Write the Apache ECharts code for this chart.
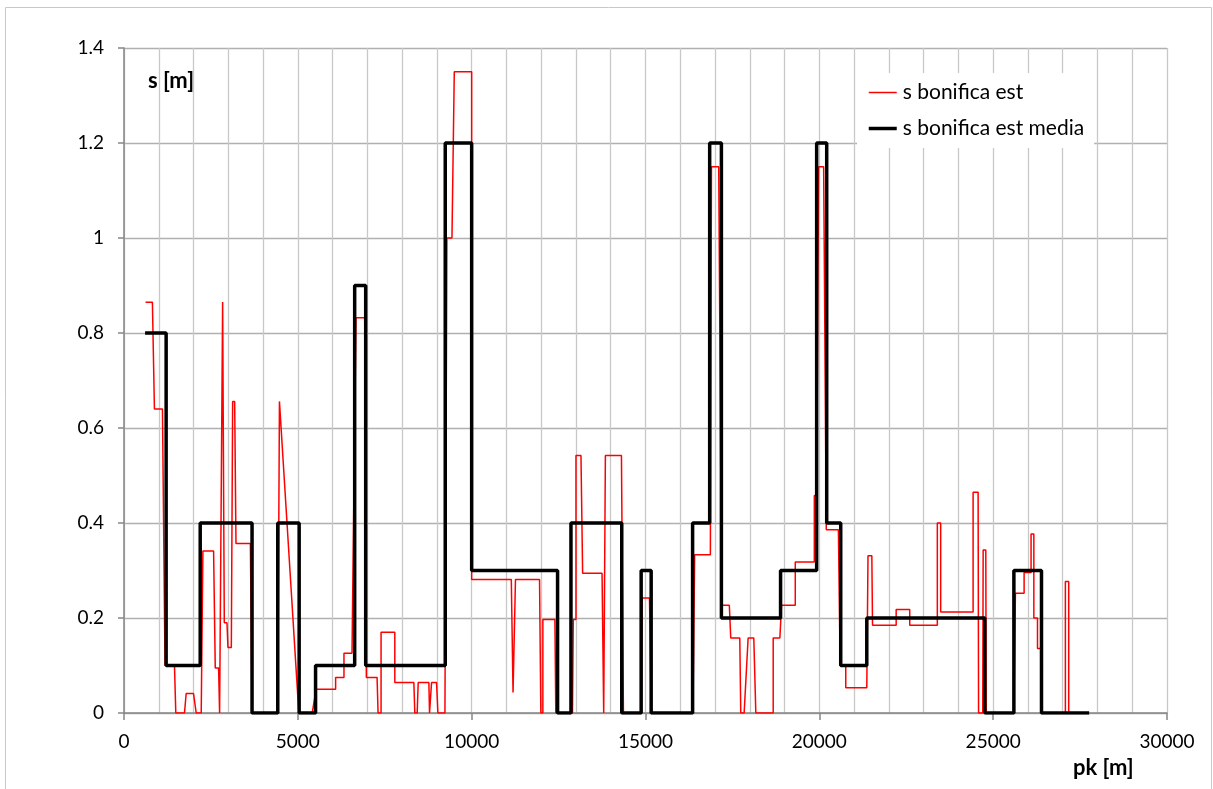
<!DOCTYPE html>
<html>
<head>
<meta charset="utf-8">
<script src="https://cdn.jsdelivr.net/npm/echarts@6/dist/echarts.min.js"></script>
<style>
html,body{margin:0;padding:0;background:#fff;}
#chart{width:1213px;height:789px;}
</style>
</head>
<body>
<div id="chart"></div>
<script>
// s bonifica est (red)
const redPk = [620,817,875,1106,1180,1452,1490,1740,1788,2000,2077,2221,2269,2577,2625,2721,2750,2837,2885,2962,2990,3087,3125,3183,3221,3635,3683,4423,4471,5029,5413,5529,6087,6087,6327,6327,6558,6673,6923,6971,7279,7308,7394,7394,7789,7789,8337,8365,8433,8462,8769,8788,8827,8846,8990,9029,9231,9288,9433,9500,10000,10000,11140,11190,11245,11260,11952,11990,12048,12048,12394,12420,12900,12923,13000,13000,13144,13192,13750,13798,13846,14308,14365,14875,14904,15115,15163,16365,16414,16866,16897,17106,17190,17411,17452,17712,17740,17837,17952,18115,18173,18673,18673,18865,18913,19308,19308,19856,19856,19923,19980,20124,20200,20548,20600,20760,20760,21365,21400,21510,21530,22210,22210,22600,22600,23394,23394,23490,23490,24423,24423,24567,24580,24700,24712,24788,24800,25596,25640,25890,25890,26090,26090,26170,26170,26275,26275,26380,26380,27077,27077,27173,27173,27760];
const redS  = [0.865,0.865,0.64,0.64,0.1,0.1,0,0,0.041,0.041,0,0,0.341,0.341,0.095,0.095,0,0.865,0.19,0.19,0.138,0.138,0.656,0.656,0.357,0.357,0,0,0.656,0,0,0.05,0.05,0.075,0.075,0.126,0.126,0.832,0.832,0.075,0.075,0,0,0.17,0.17,0.064,0.064,0,0,0.064,0.064,0,0,0.064,0.064,0,0,1.0,1.0,1.35,1.35,0.281,0.281,0.043,0.043,0.281,0.281,0,0,0.197,0.197,0,0,0.197,0.197,0.542,0.542,0.294,0.294,0,0.542,0.542,0,0,0.242,0.242,0,0,0.333,0.333,1.15,1.15,0.227,0.227,0.158,0.158,0,0,0.158,0.158,0,0,0.158,0.158,0.227,0.227,0.318,0.318,0.458,0.458,1.15,1.15,0.386,0.386,0.1,0.1,0.053,0.053,0.331,0.331,0.185,0.185,0.218,0.218,0.185,0.185,0.4,0.4,0.2125,0.2125,0.465,0.465,0,0,0.343,0.343,0,0,0.252,0.252,0.296,0.296,0.377,0.377,0.2,0.2,0.136,0.136,0,0,0.277,0.277,0,0];
// s bonifica est media (black), level holds from each pk to the next
const mediaPk = [606,1212,2192,3683,4423,5038,5510,6635,6952,9240,10000,12471,12856,14317,14875,15163,16355,16846,17183,18885,19923,20212,20615,21365,24760,25596,26390,27760];
const mediaS  = [0.8,0.1,0.4,0,0.4,0,0.1,0.9,0.1,1.2,0.3,0,0.4,0,0.3,0,0.4,1.2,0.2,0.3,1.2,0.4,0.1,0.2,0,0.3,0,0];

const seriesNames = ['s bonifica est', 's bonifica est media'];
const xTitle = 'pk [m]';
const yTitle = 's [m]';

const FONT = 'Lato';
const chart = echarts.init(document.getElementById('chart'));
chart.setOption({
  animation: false,
  backgroundColor: '#fff',
  grid: {left: 124, right: 46, top: 48, bottom: 76, containLabel: false},
  legend: {
    orient: 'vertical',
    left: 857, top: 73,
    backgroundColor: '#fff',
    padding: [9, 10, 9, 10],
    itemWidth: 28, itemHeight: 14, itemGap: 15,
    itemStyle: {opacity: 0, borderWidth: 0},
    textStyle: {fontFamily: FONT, fontSize: 21, color: '#000', padding: [0,0,0,1]},
    data: [
      {name: seriesNames[0], lineStyle: {width: 1.5, color: '#ff0000'}},
      {name: seriesNames[1], lineStyle: {width: 3.5, color: '#000000'}}
    ]
  },
  xAxis: {
    type: 'value', min: 0, max: 30000, interval: 5000,
    axisLine: {show: true, lineStyle: {color: '#868686', width: 1.5}},
    axisTick: {show: true, length: 7, lineStyle: {color: '#868686', width: 1.5}},
    axisLabel: {fontFamily: FONT, fontSize: 19, color: '#000', margin: 19, formatter: v => String(v)},
    splitLine: {show: true, lineStyle: {color: '#c8c8c8', width: 1.3}},
    minorTick: {show: false, splitNumber: 5},
    minorSplitLine: {show: true, lineStyle: {color: '#c8c8c8', width: 1.3}}
  },
  yAxis: {
    type: 'value', min: 0, max: 1.4, interval: 0.2,
    axisLine: {show: true, lineStyle: {color: '#868686', width: 1.5}},
    axisTick: {show: true, length: 6, lineStyle: {color: '#868686', width: 1.5}},
    axisLabel: {fontFamily: FONT, fontSize: 19, color: '#000', margin: 20},
    splitLine: {show: true, lineStyle: {color: '#b0b0b0', width: 1.3}}
  },
  graphic: [
    {type: 'rect', silent: true, z: -10, shape: {x: 5.5, y: 7.5, width: 1206, height: 800},
     style: {fill: 'none', stroke: '#c8c8c8', lineWidth: 1}},
    {type: 'text', x: 148, y: 70, z: 100,
     style: {text: yTitle, fontFamily: FONT, fontWeight: 'bold', fontSize: 22, fill: '#000'}},
    {type: 'text', x: 1073, y: 757, z: 100,
     style: {text: xTitle, fontFamily: FONT, fontWeight: 'bold', fontSize: 22, fill: '#000'}}
  ],
  series: [
    {
      name: seriesNames[0], type: 'line', symbol: 'none', z: 2,
      lineStyle: {color: '#ff0000', width: 1.5},
      itemStyle: {color: '#ff0000'},
      data: redPk.map((x, i) => [x, redS[i]])
    },
    {
      name: seriesNames[1], type: 'line', symbol: 'none', step: 'end', z: 3,
      lineStyle: {color: '#000000', width: 3.5},
      itemStyle: {color: '#000000'},
      data: mediaPk.map((x, i) => [x, mediaS[i]])
    }
  ]
});
</script>
</body>
</html>
